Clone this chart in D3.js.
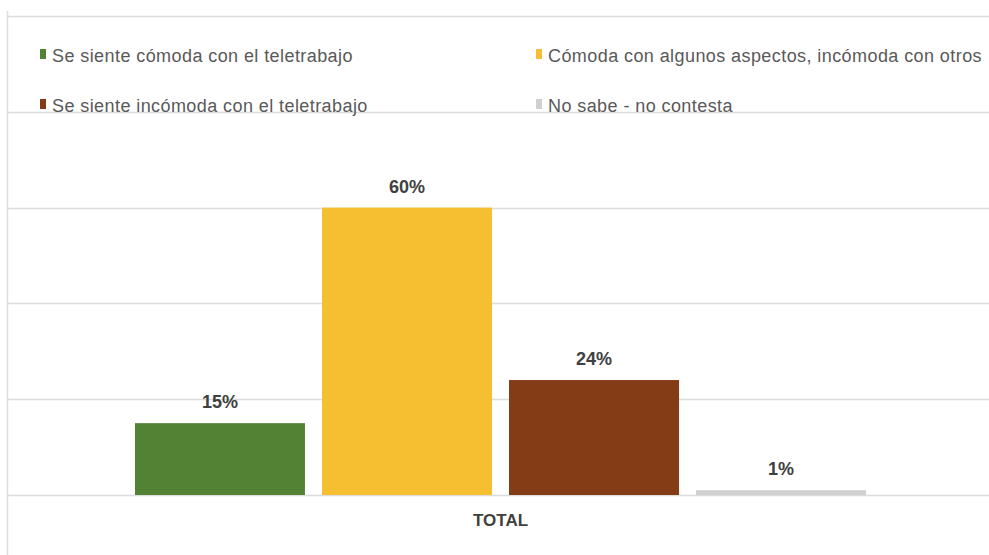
<!DOCTYPE html>
<html>
<head>
<meta charset="utf-8">
<script src="https://cdn.jsdelivr.net/npm/d3@7"></script>
<style>
  html, body { margin: 0; padding: 0; background: #ffffff; }
  svg { display: block; }
</style>
</head>
<body>
<svg id="chart" width="989" height="555"></svg>
<script>
// ---- Data ----
const categories = ["TOTAL"];
const seriesNames = [
  "Se siente cómoda con el teletrabajo",
  "Cómoda con algunos aspectos, incómoda con otros",
  "Se siente incómoda con el teletrabajo",
  "No sabe - no contesta"
];
const seriesValues = [0.15, 0.60, 0.24, 0.01];
const seriesColors = ["#548235", "#F6BF31", "#843C17", "#D0D0D0"];
const yTicks = [0, 0.2, 0.4, 0.6, 0.8, 1.0];

// ---- Layout ----
const W = 989, H = 555;
const plot = { left: 7, right: 994, top: 16, bottom: 495 };
const svg = d3.select("#chart");

const x0 = d3.scaleBand().domain(categories).range([plot.left, plot.right]).paddingOuter(0.175).paddingInner(0);
const x1 = d3.scaleBand().domain(seriesNames).range([0, x0.bandwidth()]).paddingInner(0.091).paddingOuter(0);
const y = d3.scaleLinear().domain([0, 1]).range([plot.bottom, plot.top]);

// gridlines
svg.append("g").selectAll("line").data(yTicks).join("line")
  .attr("x1", plot.left).attr("x2", W)
  .attr("y1", d => Math.round(y(d)) + 0.5).attr("y2", d => Math.round(y(d)) + 0.5)
  .attr("stroke", "#dcdcdc").attr("stroke-width", 1.5);

// left axis line
svg.append("line")
  .attr("x1", plot.left + 0.5).attr("x2", plot.left + 0.5)
  .attr("y1", 11).attr("y2", H)
  .attr("stroke", "#dcdcdc").attr("stroke-width", 1.5);

// bars
const rows = seriesNames.map((s, i) => ({ cat: categories[0], series: s, value: seriesValues[i], color: seriesColors[i] }));
const g = svg.append("g");
g.selectAll("rect").data(rows).join("rect")
  .attr("x", d => x0(d.cat) + x1(d.series))
  .attr("y", d => y(d.value))
  .attr("width", x1.bandwidth())
  .attr("height", d => y(0) - y(d.value))
  .attr("fill", d => d.color);

// data labels
g.selectAll("text.lbl").data(rows).join("text")
  .attr("class", "lbl")
  .attr("x", d => x0(d.cat) + x1(d.series) + x1.bandwidth() / 2)
  .attr("y", d => y(d.value) - 15)
  .attr("text-anchor", "middle")
  .attr("font-family", "Liberation Sans, Arial, sans-serif")
  .attr("font-weight", "bold")
  .attr("font-size", 18)
  .attr("fill", "#404040")
  .text(d => Math.round(d.value * 100) + "%");

// x axis label
const xAxis = d3.axisBottom(x0).tickSize(0).tickPadding(0);
const xa = svg.append("g").attr("transform", `translate(0,${plot.bottom})`).call(xAxis);
xa.select(".domain").remove();
xa.selectAll("text")
  .attr("y", 31).attr("dy", 0)
  .attr("font-family", "Liberation Sans, Arial, sans-serif")
  .attr("font-weight", "bold")
  .attr("font-size", 17)
  .attr("fill", "#404040");

// legend
const legendPos = [
  { x: 40, y: 62 },
  { x: 536, y: 62 },
  { x: 40, y: 112 },
  { x: 536, y: 112 }
];
const lg = svg.append("g").selectAll("g").data(rows).join("g")
  .attr("transform", (d, i) => `translate(${legendPos[i].x},${legendPos[i].y})`);
lg.append("rect")
  .attr("x", 0).attr("y", -13).attr("width", 6).attr("height", 10)
  .attr("fill", d => d.color);
lg.append("text")
  .attr("x", 12).attr("y", 0)
  .attr("font-family", "Liberation Sans, Arial, sans-serif")
  .attr("font-size", 18)
  .attr("letter-spacing", 0.42)
  .attr("fill", "#595959")
  .text(d => d.series);
</script>
</body>
</html>
